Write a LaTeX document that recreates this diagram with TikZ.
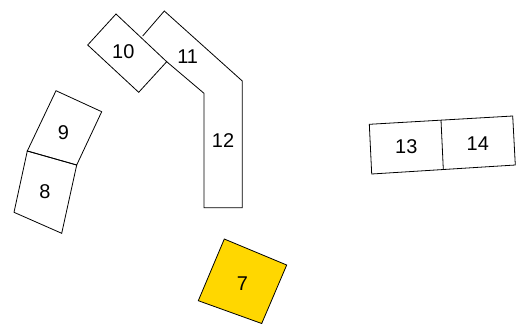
\documentclass[tikz,border=0pt]{standalone}
\usepackage{fontspec}
\setmainfont{Liberation Sans}
\definecolor{gold}{RGB}{255,215,0}
\begin{document}
\begin{tikzpicture}[x=1bp,y=-1bp,
  outl/.style={draw=black,line width=0.8bp,line join=miter},
  lbl/.style={font=\fontsize{20}{20}\selectfont,inner sep=0pt}]
\useasboundingbox (0,0) rectangle (524,323);
% box 7
\draw[outl,fill=gold] (224.3,239) -- (286.7,265) -- (261.7,323.5) -- (198.3,300.7) -- cycle;
\node[lbl] (t7) at (242.3,283.3) {7};
% boxes 8 and 9
\draw[outl] (56,90.7) -- (101.7,111.7) -- (76.7,165) -- (27.3,151) -- cycle;
\draw[outl] (27.3,151) -- (76.7,165) -- (61.7,233.3) -- (14,212.3) -- cycle;
\node[lbl] (t9) at (63.3,132.3) {9};
\node[lbl] (t8) at (45,191.7) {8};
% box 10
\draw[outl] (116,14) -- (166.7,61.7) -- (138.7,92.3) -- (87.7,45) -- cycle;
\node[lbl] (t10) at (123.3,51.7) {10};
% shape 11/12
\draw[outl] (142.7,36) -- (164.3,11) -- (242.3,81) -- (242.3,207.7) -- (204,207.7) -- (204,93.3) -- (166.7,61.7);
\node[lbl] (t11) at (187.7,56.7) {11};
\node[lbl] (t12) at (223,140.5) {12};
% boxes 13 and 14
\draw[outl] (369.3,124.3) -- (512.7,116) -- (515.3,165) -- (371.7,174) -- cycle;
\draw[outl] (441,120) -- (443.3,169.3);
\node[lbl] (t13) at (406.3,146.5) {13};
\node[lbl] (t14) at (477.8,143.5) {14};
\end{tikzpicture}
\end{document}
